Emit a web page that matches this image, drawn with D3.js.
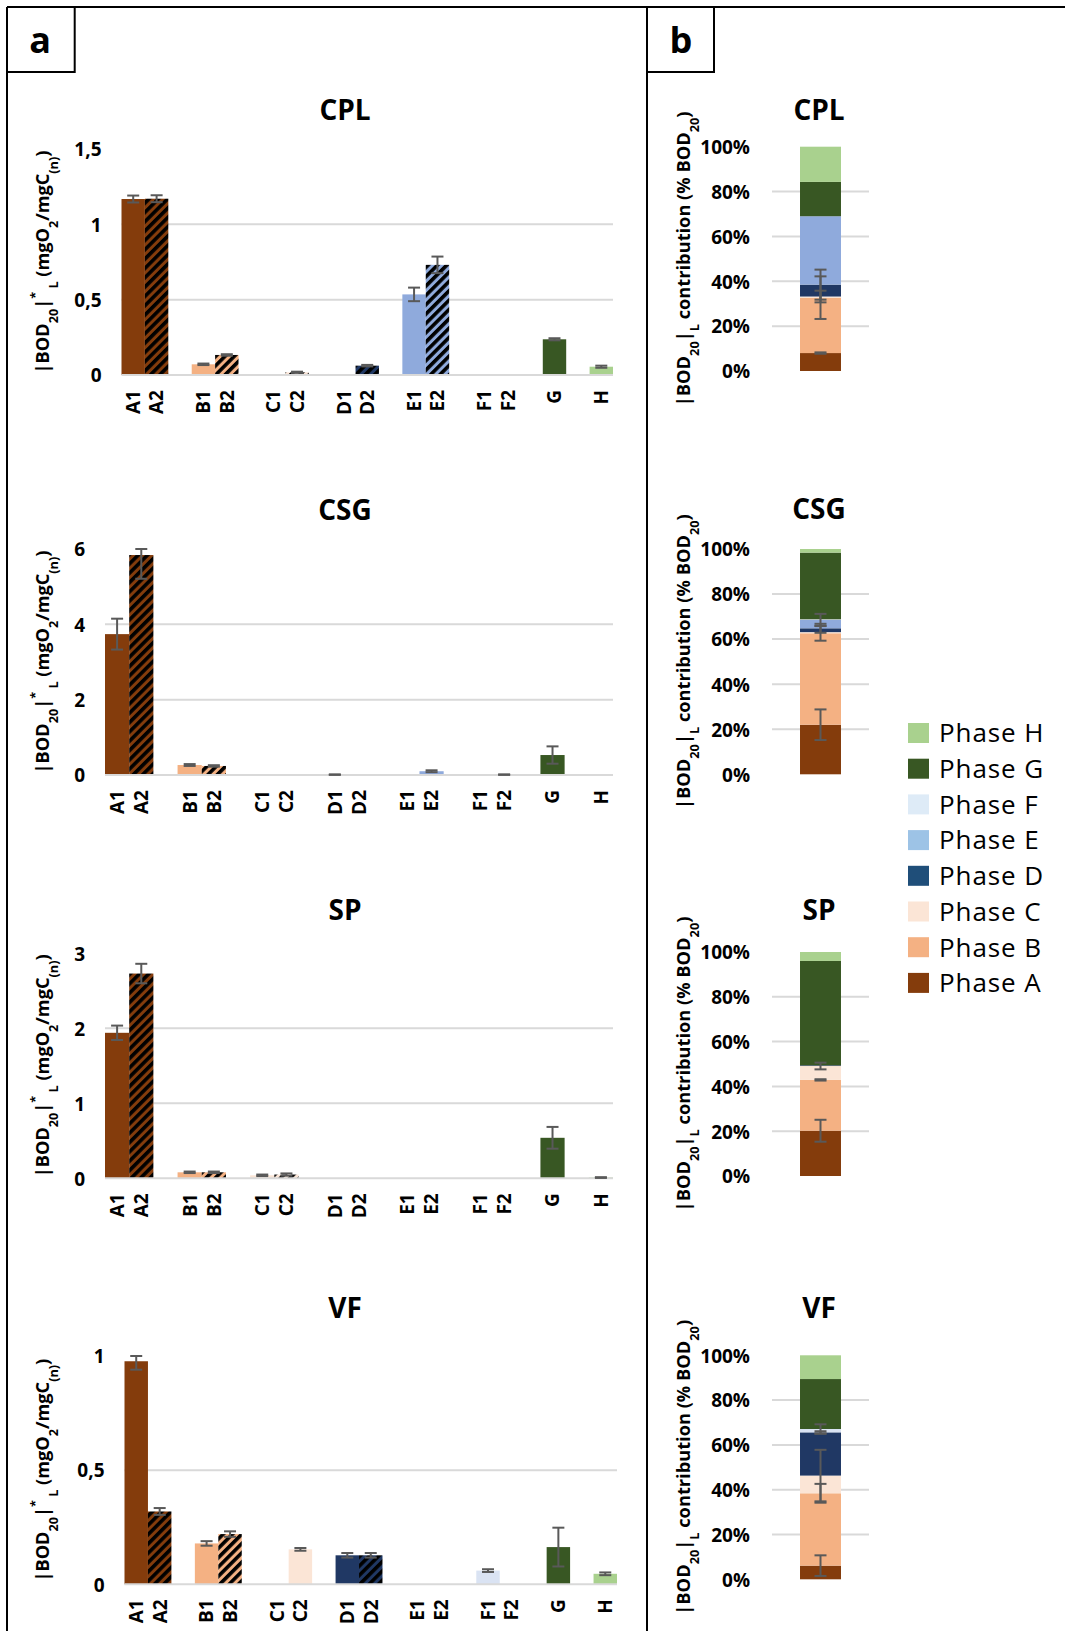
<!DOCTYPE html>
<html>
<head>
<meta charset="utf-8">
<script src="https://cdn.jsdelivr.net/npm/d3@7"></script>
<style>
  html, body { margin: 0; padding: 0; background: #fff; }
  svg { display: block; }
</style>
</head>
<body>
<script>
// ---------------- DATA ----------------
const phases = ["A", "B", "C", "D", "E", "F", "G", "H"];
const categories = ["A1", "A2", "B1", "B2", "C1", "C2", "D1", "D2", "E1", "E2", "F1", "F2", "G", "H"];
const sites = ["CPL", "CSG", "SP", "VF"];

// Panel a : |BOD20|*L per category (mgO2/mgC(n)) and error
const cplValues = [1.168, 1.17, 0.071, 0.133, 0, 0.018, 0, 0.062, 0.535, 0.731, 0, 0, 0.237, 0.055];
const cplErrors = [0.023, 0.023, 0.005, 0.005, 0, 0.004, 0, 0.005, 0.045, 0.055, 0, 0, 0.007, 0.007];
const csgValues = [3.74, 5.84, 0.265, 0.24, 0, 0, 0.01, 0, 0, 0.1, 0, 0.01, 0.53, 0];
const csgErrors = [0.41, 0.63, 0.025, 0.02, 0, 0, 0.006, 0, 0, 0.025, 0, 0.006, 0.23, 0];
const spValues  = [1.94, 2.73, 0.08, 0.08, 0.04, 0.05, 0, 0, 0, 0, 0, 0, 0.54, 0.01];
const spErrors  = [0.096, 0.13, 0.01, 0.01, 0.01, 0.015, 0, 0, 0, 0, 0, 0, 0.145, 0.005];
const vfValues  = [0.977, 0.319, 0.179, 0.22, 0, 0.153, 0.127, 0.127, 0, 0, 0.06, 0, 0.163, 0.046];
const vfErrors  = [0.037, 0.015, 0.01, 0.012, 0, 0.006, 0.01, 0.01, 0, 0, 0.006, 0, 0.085, 0.006];

// "2" categories drawn hatched, except these (drawn plain in the figure)
const cplPlain = [];
const csgPlain = ["E2"];
const spPlain  = [];
const vfPlain  = ["C2"];

const cplTicks = [0, 0.5, 1, 1.5];
const csgTicks = [0, 2, 4, 6];
const spTicks  = [0, 1, 2, 3];
const vfTicks  = [0, 0.5, 1];

// Panel b : share of |BOD20|L per phase (% BOD20), stacked A..H, and error
const cplShare    = [8, 24.7, 0.5, 5.3, 30.5, 0, 15.3, 15.7];
const cplShareErr = [0.3, 9.5, 2.6, 6.7, 0, 0, 0, 0];
const csgShare    = [22, 40.6, 0.5, 1.7, 3.7, 0.3, 29.6, 1.6];
const csgShareErr = [6.8, 3.3, 0, 2, 2.7, 0, 0, 0];
const spShare     = [20.2, 22.7, 6.2, 0.3, 0, 0, 46.6, 4];
const spShareErr  = [4.9, 0.3, 1.5, 0, 0, 0, 0, 0];
const vfShare     = [6.1, 32.3, 7.9, 19.3, 0, 1.5, 22.3, 10.6];
const vfShareErr  = [4.6, 4.2, 11.5, 0.5, 0, 2.1, 0, 0];
const shareTicks  = [0, 20, 40, 60, 80, 100];

const legendLabels = ["Phase H", "Phase G", "Phase F", "Phase E", "Phase D", "Phase C", "Phase B", "Phase A"];

// ---------------- STYLE / LAYOUT ----------------
const phaseColors  = ["#843c0c", "#f4b183", "#fbe5d6", "#203864", "#8faadc", "#dae3f3", "#385723", "#a9d18e"];
const legendColors = ["#a9d18e", "#385723", "#deebf7", "#9dc3e6", "#1f4e79", "#fbe5d6", "#f4b183", "#843c0c"];
const FONT = "'Open Sans', 'Liberation Sans', Arial, sans-serif";
const gridColor = "#d9d9d9";
const errColor = "#595959";

const aLayout = [
  { x0: 121.5, x1: 613, yTop: 149,    yBase: 375,    titleY: 110 },
  { x0: 105,   x1: 613, yTop: 549,    yBase: 775,    titleY: 510 },
  { x0: 105,   x1: 613, yTop: 953.3,  yBase: 1178.3, titleY: 909.5 },
  { x0: 124.5, x1: 617, yTop: 1356,   yBase: 1584.3, titleY: 1308 }
];
const bLayout = [
  { yTop: 146.7,  yBase: 371,    titleY: 110 },
  { yTop: 549,    yBase: 774.3,  titleY: 509 },
  { yTop: 952,    yBase: 1176,   titleY: 909.5 },
  { yTop: 1355.3, yBase: 1579.3, titleY: 1308 }
];

const aSeries = [
  { values: cplValues, errors: cplErrors, ticks: cplTicks, plain: cplPlain },
  { values: csgValues, errors: csgErrors, ticks: csgTicks, plain: csgPlain },
  { values: spValues,  errors: spErrors,  ticks: spTicks,  plain: spPlain },
  { values: vfValues,  errors: vfErrors,  ticks: vfTicks,  plain: vfPlain }
];
const bSeries = [
  { share: cplShare, err: cplShareErr },
  { share: csgShare, err: csgShareErr },
  { share: spShare,  err: spShareErr },
  { share: vfShare,  err: vfShareErr }
];

const W = 1065, H = 1631;
const svg = d3.select("body").append("svg").attr("width", W).attr("height", H)
  .attr("font-family", FONT);

// hatch patterns
const defs = svg.append("defs");
const HP = 6.6, HB = 3.6;
phases.forEach((p, i) => {
  const pat = defs.append("pattern").attr("id", "hatch" + p)
    .attr("patternUnits", "userSpaceOnUse")
    .attr("width", HP).attr("height", HP)
    .attr("patternTransform", "rotate(45)");
  pat.append("rect").attr("width", HP).attr("height", HP).attr("fill", phaseColors[i]);
  pat.append("rect").attr("width", HB).attr("height", HP).attr("fill", "#000");
});

// slots with spacer between phase groups
const slots = [];
categories.forEach((c, i) => {
  if (i > 0 && c[0] !== categories[i - 1][0]) slots.push("_gap" + i);
  slots.push(c);
});
const fmtComma = d => String(d).replace(".", ",");

function fitText(textSel, target) {
  const base = 19;
  textSel.attr("font-size", base);
  const len = textSel.node().getComputedTextLength();
  textSel.attr("font-size", base * target / len);
}

function drawErr(g, xc, lo, hi, capW) {
  g.append("line").attr("x1", xc).attr("x2", xc).attr("y1", lo).attr("y2", hi)
    .attr("stroke", errColor).attr("stroke-width", 2);
  [lo, hi].forEach(yy => g.append("line")
    .attr("x1", xc - capW / 2).attr("x2", xc + capW / 2).attr("y1", yy).attr("y2", yy)
    .attr("stroke", errColor).attr("stroke-width", 2));
}

// ---------------- PANEL A ----------------
aSeries.forEach((s, k) => {
  const L = aLayout[k];
  const g = svg.append("g");
  const max = d3.max(s.ticks);
  const x = d3.scaleBand().domain(slots).range([L.x0, L.x1]).padding(0);
  const y = d3.scaleLinear().domain([0, max]).range([L.yBase, L.yTop]);

  // gridlines (interior)
  g.selectAll(".grid").data(s.ticks.filter(t => t > 0 && t < max)).join("line")
    .attr("x1", L.x0).attr("x2", L.x1).attr("y1", d => y(d)).attr("y2", d => y(d))
    .attr("stroke", gridColor).attr("stroke-width", 2);

  // bars
  const data = categories.map((c, i) => ({ c, v: s.values[i], e: s.errors[i] }));
  g.selectAll(".bar").data(data.filter(d => d.v > 0)).join("rect")
    .attr("x", d => x(d.c)).attr("width", x.bandwidth())
    .attr("y", d => y(d.v)).attr("height", d => y(0) - y(d.v))
    .attr("fill", d => {
      const pi = phases.indexOf(d.c[0]);
      return (d.c.endsWith("2") && !s.plain.includes(d.c)) ? "url(#hatch" + d.c[0] + ")" : phaseColors[pi];
    });

  // baseline
  g.append("line").attr("x1", L.x0).attr("x2", L.x1).attr("y1", y(0)).attr("y2", y(0))
    .attr("stroke", gridColor).attr("stroke-width", 2);

  // error bars
  data.filter(d => d.e > 0).forEach(d => {
    const xc = x(d.c) + x.bandwidth() / 2;
    const lo = y(Math.max(0, d.v - d.e)), hi = y(Math.min(max, d.v + d.e));
    drawErr(g, xc, lo, hi, 12);
  });

  // y axis
  const ya = g.append("g").attr("transform", `translate(${L.x0},0)`)
    .call(d3.axisLeft(y).tickValues(s.ticks).tickFormat(fmtComma).tickSize(0).tickPadding(20));
  ya.select(".domain").remove();
  ya.attr("font-family", FONT).attr("font-size", 19).attr("font-weight", "bold");
  ya.selectAll("text").attr("fill", "#000").attr("dy", "0.36em");

  // x axis
  const xa = g.append("g").attr("transform", `translate(0,${L.yBase})`)
    .call(d3.axisBottom(x).tickValues(categories).tickSize(0));
  xa.select(".domain").remove();
  xa.attr("font-family", FONT).attr("font-size", 19).attr("font-weight", "bold");
  xa.selectAll("text").attr("fill", "#000")
    .attr("transform", "rotate(-90)").attr("text-anchor", "end")
    .attr("x", -15).attr("y", 0).attr("dy", "0.36em");

  // title
  g.append("text").attr("x", 345).attr("y", L.titleY).attr("dy", "0.36em")
    .attr("text-anchor", "middle").attr("font-size", 28).attr("font-weight", "bold")
    .text(sites[k]);

  // y title
  const yc = (L.yTop + L.yBase) / 2;
  const t = g.append("text").attr("transform", `translate(42,${yc}) rotate(-90)`)
    .attr("text-anchor", "middle").attr("dy", "0.36em").attr("font-weight", "bold");
  t.append("tspan").text("|BOD");
  t.append("tspan").style("font-size", "70%").attr("baseline-shift", "sub").text("20");
  t.append("tspan").text("|");
  t.append("tspan").style("font-size", "70%").attr("baseline-shift", "super").text("*");
  t.append("tspan").style("font-size", "70%").attr("baseline-shift", "sub").text(" L");
  t.append("tspan").text(" (mgO");
  t.append("tspan").style("font-size", "70%").attr("baseline-shift", "sub").text("2");
  t.append("tspan").text("/mgC");
  t.append("tspan").style("font-size", "70%").attr("baseline-shift", "sub").text("(n)");
  t.append("tspan").text(")");
  fitText(t, 223);
});

// ---------------- PANEL B ----------------
bSeries.forEach((s, k) => {
  const L = bLayout[k];
  const g = svg.append("g");
  const x = d3.scaleBand().domain([sites[k]]).range([772, 869]).padding(0.406);
  const y = d3.scaleLinear().domain([0, 100]).range([L.yBase, L.yTop]);

  g.selectAll(".grid").data(shareTicks.filter(t => t > 0 && t < 100)).join("line")
    .attr("x1", 772).attr("x2", 869).attr("y1", d => y(d)).attr("y2", d => y(d))
    .attr("stroke", gridColor).attr("stroke-width", 2);

  const row = { site: sites[k] };
  phases.forEach((p, i) => row[p] = s.share[i]);
  const stacked = d3.stack().keys(phases)([row]);

  g.selectAll(".seg").data(stacked).join("rect")
    .attr("x", x(sites[k])).attr("width", x.bandwidth())
    .attr("y", d => y(d[0][1])).attr("height", d => y(d[0][0]) - y(d[0][1]))
    .attr("fill", (d, i) => phaseColors[i]);

  stacked.forEach((layer, i) => {
    const e = s.err[i];
    if (e > 0) {
      const top = layer[0][1];
      drawErr(g, x(sites[k]) + x.bandwidth() / 2,
        y(Math.max(0, top - e)), y(Math.min(100, top + e)), 12);
    }
  });

  const ya = g.append("g").attr("transform", "translate(772,0)")
    .call(d3.axisLeft(y).tickValues(shareTicks).tickFormat(d => d + "%").tickSize(0).tickPadding(22));
  ya.select(".domain").remove();
  ya.attr("font-family", FONT).attr("font-size", 19).attr("font-weight", "bold");
  ya.selectAll("text").attr("fill", "#000").attr("dy", "0.36em");

  g.append("text").attr("x", 819).attr("y", L.titleY).attr("dy", "0.36em")
    .attr("text-anchor", "middle").attr("font-size", 28).attr("font-weight", "bold")
    .text(sites[k]);

  const yc = (L.yTop + L.yBase) / 2;
  const t = g.append("text").attr("transform", `translate(683,${yc}) rotate(-90)`)
    .attr("text-anchor", "middle").attr("dy", "0.36em").attr("font-weight", "bold");
  t.append("tspan").text("|BOD");
  t.append("tspan").style("font-size", "70%").attr("baseline-shift", "sub").text("20");
  t.append("tspan").text("|");
  t.append("tspan").style("font-size", "70%").attr("baseline-shift", "sub").text("L");
  t.append("tspan").text(" contribution (% BOD");
  t.append("tspan").style("font-size", "70%").attr("baseline-shift", "sub").text("20");
  t.append("tspan").text(")");
  fitText(t, 295);
});

// ---------------- LEGEND ----------------
const lg = svg.append("g");
legendLabels.forEach((lab, i) => {
  const cy = 733 + i * 35.7;
  lg.append("rect").attr("x", 908).attr("y", cy - 10).attr("width", 21).attr("height", 20)
    .attr("fill", legendColors[i]);
  lg.append("text").attr("x", 939).attr("y", cy).attr("dy", "0.36em")
    .attr("font-size", 26).attr("letter-spacing", 0.9).attr("fill", "#000").text(lab);
});

// ---------------- FRAMES ----------------
const fr = svg.append("g").attr("stroke", "#000").attr("stroke-width", 2).attr("fill", "none");
fr.append("line").attr("x1", 7).attr("x2", W).attr("y1", 7).attr("y2", 7);
fr.append("line").attr("x1", 7).attr("x2", 7).attr("y1", 7).attr("y2", H);
fr.append("line").attr("x1", 647).attr("x2", 647).attr("y1", 7).attr("y2", H);
fr.append("polyline").attr("points", "7,72 74.7,72 74.7,7");
fr.append("polyline").attr("points", "647,72 714,72 714,7");

svg.append("text").attr("x", 40).attr("y", 53).attr("text-anchor", "middle")
  .attr("font-size", 36).attr("font-weight", "bold").text("a");
svg.append("text").attr("x", 681).attr("y", 53).attr("text-anchor", "middle")
  .attr("font-size", 36).attr("font-weight", "bold").text("b");
</script>
</body>
</html>
